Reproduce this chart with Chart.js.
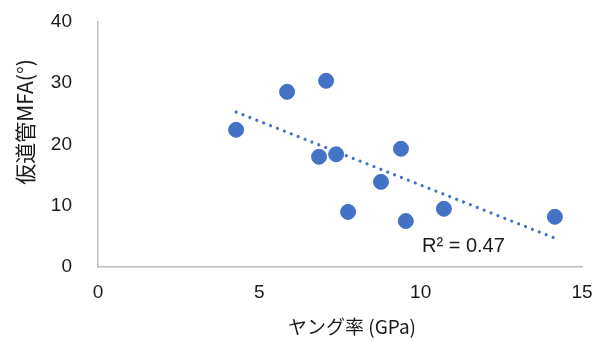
<!DOCTYPE html>
<html lang="ja">
<head>
  <meta charset="UTF-8" />
  <title>ヤング率とMFA</title>
  <script src="https://cdn.jsdelivr.net/npm/chart.js"></script>
  <style>
    html, body { margin: 0; padding: 0; background: #fff; }
    canvas { display: block; }
  </style>
</head>
<body>
  <canvas id="chart" width="609" height="341"></canvas>

  <script>
    // データ
    const youngModulus = [4.28, 5.86, 7.07, 6.85, 7.38, 7.75, 8.77, 9.39, 9.54, 10.72, 14.16];
    const mfa = [22.4, 28.6, 30.4, 18.0, 18.4, 9.0, 13.9, 19.3, 7.5, 9.5, 8.2];

    // 近似直線の両端
    const trendX = [4.28, 14.16];
    const trendY = [25.3, 4.7];

    const xTicks = [0, 5, 10, 15];
    const yTicks = [0, 10, 20, 30, 40];

    const xTitle = 'ヤング率 (GPa)';
    const yTitle = '仮道管MFA(°)';
    const r2Label = 'R² = 0.47';

    const azul = '#4472C4';
    const cinza = '#bfbfbf';
    const texto = '#1a1a1a';
    const fonteJP = '"Noto Sans CJK JP", "Liberation Sans", sans-serif';
    const fonteNum = '"Liberation Sans", Arial, sans-serif';

    const titulos = {
      id: 'titulos',
      afterDraw(chart) {
        const ctx = chart.ctx;
        ctx.save();
        ctx.fillStyle = texto;
        ctx.font = '19px ' + fonteJP;
        ctx.textAlign = 'center';
        ctx.textBaseline = 'middle';
        ctx.fillText(xTitle, 352, 327);

        ctx.font = '21px ' + fonteJP;
        ctx.translate(25, 122);
        ctx.rotate(-Math.PI / 2);
        ctx.fillText(yTitle, 0, 0);
        ctx.restore();

        ctx.save();
        ctx.fillStyle = texto;
        ctx.font = '20px ' + fonteNum;
        ctx.textAlign = 'left';
        ctx.textBaseline = 'middle';
        ctx.fillText(r2Label, 422, 246);
        ctx.restore();
      }
    };

    new Chart(document.getElementById('chart').getContext('2d'), {
      type: 'scatter',
      data: {
        datasets: [
          {
            label: 'MFA',
            data: youngModulus.map((x, i) => ({ x: x, y: mfa[i] })),
            backgroundColor: azul,
            borderColor: azul,
            pointRadius: 7.5,
            pointHoverRadius: 7.5,
            order: 1
          },
          {
            label: 'trend',
            type: 'line',
            data: trendX.map((x, i) => ({ x: x, y: trendY[i] })),
            borderColor: azul,
            borderWidth: 3.2,
            borderDash: [0.01, 7.4],
            borderCapStyle: 'round',
            pointRadius: 0,
            fill: false,
            order: 2
          }
        ]
      },
      options: {
        responsive: false,
        animation: false,
        layout: { padding: { top: 22, right: 27, bottom: 0, left: 0 } },
        plugins: {
          legend: { display: false },
          tooltip: { enabled: false }
        },
        scales: {
          x: {
            type: 'linear',
            min: 0,
            max: 15,
            afterBuildTicks: s => { s.ticks = xTicks.map(v => ({ value: v })); },
            afterFit: s => { s.height = 74; },
            // tickLength reserva o espaço; as marcas não aparecem com display false
            grid: { display: false, drawTicks: true, tickLength: 14 },
            border: { display: true, color: cinza, width: 1.4 },
            ticks: {
              color: texto,
              padding: 0,
              font: { size: 19, family: fonteNum }
            }
          },
          y: {
            type: 'linear',
            min: 0,
            max: 40,
            afterBuildTicks: s => { s.ticks = yTicks.map(v => ({ value: v })); },
            afterFit: s => { s.width = 98; },
            grid: { display: false, drawTicks: true, tickLength: 26 },
            border: { display: true, color: cinza, width: 1.4 },
            ticks: {
              color: texto,
              padding: 0,
              font: { size: 19, family: fonteNum }
            }
          }
        }
      },
      plugins: [titulos]
    });
  </script>
</body>
</html>
